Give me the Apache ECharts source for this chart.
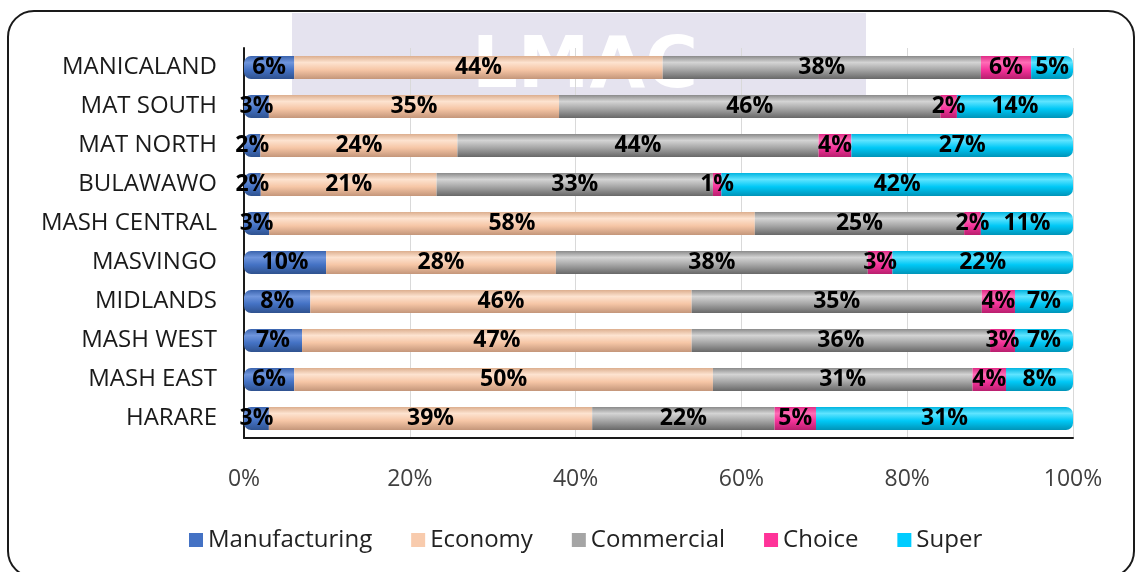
<!DOCTYPE html>
<html>
<head>
<meta charset="utf-8">
<script src="https://cdn.jsdelivr.net/npm/echarts@6/dist/echarts.min.js"></script>
<style>
  html, body { margin: 0; padding: 0; background: #ffffff; }
  #chart { width: 1136px; height: 572px; }
</style>
</head>
<body>
<div id="chart"></div>
<script>
// Provinces, listed top to bottom
const provinces = ['MANICALAND', 'MAT SOUTH', 'MAT NORTH', 'BULAWAWO', 'MASH CENTRAL',
                   'MASVINGO', 'MIDLANDS', 'MASH WEST', 'MASH EAST', 'HARARE'];

// Share of each grade per province (%)
const manufacturing = [6, 3, 2, 2, 3, 10, 8, 7, 6, 3];
const economy       = [44, 35, 24, 21, 58, 28, 46, 47, 50, 39];
const commercial    = [38, 46, 44, 33, 25, 38, 35, 36, 31, 22];
const choice        = [6, 2, 4, 1, 2, 3, 4, 3, 4, 5];
const superGrade    = [5, 14, 27, 42, 11, 22, 7, 7, 8, 31];

const axisTicks = ['0%', '20%', '40%', '60%', '80%', '100%'];

const gradeNames = ['Manufacturing', 'Economy', 'Commercial', 'Choice', 'Super'];
const gradeData = [manufacturing, economy, commercial, choice, superGrade];
const baseColors = ['#4472C4', '#F8CBAD', '#A5A5A5', '#FF3399', '#00CCFF'];

// Cylinder-like shading for each colour
const shades = {
  '#4472C4': ['#3a63ad', '#6f95dc', '#4472C4', '#2f528f'],
  '#F8CBAD': ['#dcae8e', '#fde3d0', '#f6c6a6', '#c4967a'],
  '#A5A5A5': ['#8a8a8a', '#d4d4d4', '#a6a6a6', '#686868'],
  '#FF3399': ['#e02a86', '#ff6db6', '#f5339a', '#b81f6e'],
  '#00CCFF': ['#00b4e0', '#5fe4ff', '#00c8f6', '#0094b8']
};
function shaded(c) {
  const s = shades[c];
  return new echarts.graphic.LinearGradient(0, 0, 0, 1, [
    { offset: 0, color: s[0] },
    { offset: 0.28, color: s[1] },
    { offset: 0.6, color: s[2] },
    { offset: 1, color: s[3] }
  ]);
}

// Row totals, so each bar fills the whole 100% width
const rowTotals = provinces.map((_, i) => gradeData.reduce((a, arr) => a + arr[i], 0));

const fontFamily = '"Open Sans", "Noto Sans", sans-serif';

const series = gradeNames.map((name, k) => {
  const radius = k === 0 ? [7, 0, 0, 7] : (k === gradeNames.length - 1 ? [0, 7, 7, 0] : 0);
  return {
    name: name,
    type: 'bar',
    stack: 'total',
    barWidth: 23,
    data: gradeData[k].map((v, i) => ({ value: v / rowTotals[i] * 100, raw: v })),
    itemStyle: { color: shaded(baseColors[k]), borderRadius: radius },
    label: {
      show: true,
      position: 'inside',
      color: '#000000',
      fontWeight: 'bold',
      fontSize: 23,
      fontFamily: fontFamily,
      formatter: p => p.data.raw + '%'
    },
    labelLayout: { hideOverlap: false },
    emphasis: { disabled: true }
  };
});

const chart = echarts.init(document.getElementById('chart'), null, { renderer: 'canvas' });
chart.setOption({
  animation: false,
  backgroundColor: '#ffffff',
  graphic: [
    {
      type: 'rect',
      z: -20,
      shape: { x: 8, y: 11, width: 1126, height: 566, r: 26 },
      style: { fill: '#ffffff', stroke: '#1a1a1a', lineWidth: 2 }
    },
    {
      type: 'rect',
      z: -10,
      shape: { x: 292, y: 13, width: 574, height: 82 },
      style: { fill: '#e5e3ef' }
    },
    {
      type: 'text',
      z: -9,
      x: 585,
      y: 68,
      style: {
        text: 'LMAC',
        fill: '#ffffff',
        font: 'bold 72px "DejaVu Sans", sans-serif',
        align: 'center',
        verticalAlign: 'middle'
      }
    }
  ],
  legend: {
    bottom: 15,
    left: 184,
    itemWidth: 14,
    itemHeight: 14,
    itemGap: 39,
    icon: 'rect',
    data: gradeNames.map((n, k) => ({ name: n, itemStyle: { color: baseColors[k] } })),
    textStyle: { fontSize: 24, color: '#222222', fontFamily: fontFamily }
  },
  grid: { left: 244, right: 63, top: 48, bottom: 134 },
  xAxis: {
    type: 'value',
    min: 0,
    max: 100,
    interval: 20,
    axisLine: { show: true, lineStyle: { color: '#1a1a1a', width: 2 } },
    axisTick: { show: false },
    splitLine: { show: true, lineStyle: { color: '#d9d9d9', width: 1 } },
    axisLabel: {
      margin: 30,
      fontSize: 23,
      color: '#404040',
      fontFamily: fontFamily,
      formatter: v => axisTicks[Math.round(v / 20)]
    }
  },
  yAxis: {
    type: 'category',
    inverse: true,
    data: provinces,
    axisLine: { show: true, lineStyle: { color: '#1a1a1a', width: 2 } },
    axisTick: { show: false },
    axisLabel: {
      margin: 27,
      fontSize: 24,
      color: '#1a1a1a',
      fontFamily: fontFamily
    }
  },
  series: series
});
</script>
</body>
</html>
